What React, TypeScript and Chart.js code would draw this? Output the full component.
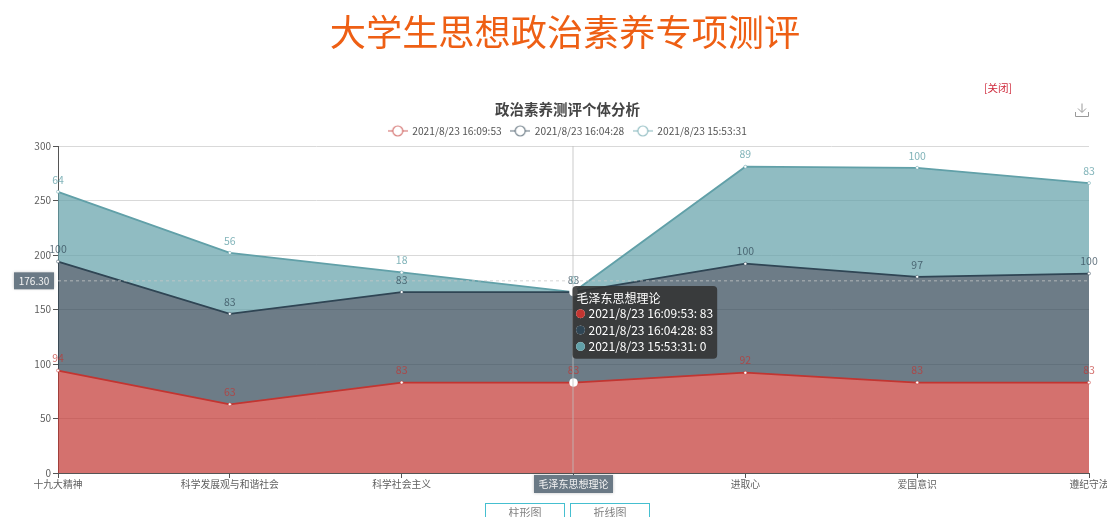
import React, { useEffect, useRef } from "react";
import { Chart, Tooltip, registerables } from "chart.js";

Chart.register(...registerables);

const categories = ["十九大精神", "科学发展观与和谐社会", "科学社会主义", "毛泽东思想理论", "进取心", "爱国意识", "遵纪守法"];
const seriesNames = ["2021/8/23 16:09:53", "2021/8/23 16:04:28", "2021/8/23 15:53:31"];
const seriesA = [94, 63, 83, 83, 92, 83, 83];
const seriesB = [100, 83, 83, 83, 100, 97, 100];
const seriesC = [64, 56, 18, 0, 89, 100, 83];
const solid = ["#c23531", "#2f4554", "#61a0a8"];
const fills = ["rgba(194,53,49,0.7)", "rgba(47,69,84,0.7)", "rgba(97,160,168,0.7)"];
const labelColors = ["rgba(194,53,49,0.72)", "rgba(47,69,84,0.72)", "rgba(97,160,168,0.8)"];
const yTicks = [0, 50, 100, 150, 200, 250, 300];
const pointerValue = 176.3;
const pointerIndex = 3;
const FONT = '"Noto Sans CJK SC", "Noto Sans", sans-serif';

function legendIcon(color: string) {
  const c = document.createElement("canvas");
  c.width = 20;
  c.height = 14;
  const g = c.getContext("2d")!;
  g.strokeStyle = color;
  g.lineWidth = 1.2;
  g.globalAlpha = 0.65;
  g.beginPath();
  g.moveTo(0, 7);
  g.lineTo(20, 7);
  g.stroke();
  g.globalCompositeOperation = "destination-out";
  g.globalAlpha = 1;
  g.beginPath();
  g.arc(10, 7, 5, 0, Math.PI * 2);
  g.fill();
  g.globalCompositeOperation = "source-over";
  g.globalAlpha = 0.65;
  g.beginPath();
  g.arc(10, 7, 5, 0, Math.PI * 2);
  g.stroke();
  return c;
}

function roundBox(g: CanvasRenderingContext2D, text: string, cx: number, cy: number, w: number, h: number) {
  g.save();
  g.fillStyle = "#6a7985";
  g.shadowColor = "rgba(0,0,0,0.25)";
  g.shadowBlur = 3;
  g.fillRect(cx - w / 2, cy - h / 2, w, h);
  g.shadowBlur = 0;
  g.fillStyle = "#f4f4f4";
  g.font = `10px ${FONT}`;
  g.textAlign = "center";
  g.textBaseline = "middle";
  g.fillText(text, cx, cy);
  g.restore();
}

const valueLabels = {
  id: "valueLabels",
  afterDatasetsDraw(chart: any) {
    const g = chart.ctx;
    g.save();
    g.font = `10.5px ${FONT}`;
    g.textAlign = "center";
    g.textBaseline = "bottom";
    chart.data.datasets.forEach((ds: any, i: number) => {
      const meta = chart.getDatasetMeta(i);
      meta.data.forEach((pt: any, j: number) => {
        g.fillStyle = labelColors[i];
        g.fillText(String(ds.data[j]), pt.x, pt.y - 7);
      });
    });
    g.restore();
  },
};

const headerShift = {
  id: "headerShift",
  afterLayout(chart: any) {
    for (const box of [chart.titleBlock, chart.legend]) {
      box.left += 23;
      box.right += 23;
    }
  },
};

const axisPointer = {
  id: "axisPointer",
  afterDatasetsDraw(chart: any) {
    const g = chart.ctx;
    const { left, right, top, bottom } = chart.chartArea;
    const x = chart.scales.x.getPixelForValue(pointerIndex);
    const y = chart.scales.y.getPixelForValue(pointerValue);
    g.save();
    g.lineWidth = 1;
    g.strokeStyle = "rgba(190,190,190,0.8)";
    g.beginPath();
    g.moveTo(x - 0.5, top);
    g.lineTo(x - 0.5, bottom);
    g.stroke();
    g.setLineDash([3, 3]);
    g.strokeStyle = "rgba(200,200,200,0.75)";
    g.beginPath();
    g.moveTo(left, y);
    g.lineTo(right, y);
    g.stroke();
    g.restore();
    roundBox(g, pointerValue.toFixed(2), left - 24, y, 40, 17);
    roundBox(g, categories[pointerIndex], x, bottom + 11, 79, 18);
  },
};

(Tooltip.positioners as any).pointerFixed = function (this: any) {
  const chart = this.chart;
  const stackTop = seriesA[pointerIndex] + seriesB[pointerIndex] + seriesC[pointerIndex];
  return {
    x: chart.scales.x.getPixelForValue(pointerIndex) + 3,
    y: chart.scales.y.getPixelForValue(stackTop) - 6,
  };
};

export default function App() {
  const ref = useRef<HTMLCanvasElement>(null);
  useEffect(() => {
    const make = (label: string, data: number[], i: number) => ({
      label,
      data,
      stack: "s",
      fill: i === 0 ? "origin" : "-1",
      tension: 0,
      borderColor: solid[i],
      backgroundColor: fills[i],
      borderWidth: 1.8,
      pointRadius: 1.5,
      pointBorderWidth: 0.5,
      pointBackgroundColor: "#fff",
      pointBorderColor: solid[i],
      pointHoverRadius: 4,
      pointHoverBorderWidth: 0.5,
      pointHoverBackgroundColor: "#fff",
      pointHoverBorderColor: "#fff",
    });
    const chart = new Chart(ref.current!, {
      type: "line",
      data: {
        labels: categories,
        datasets: [make(seriesNames[0], seriesA, 0), make(seriesNames[1], seriesB, 1), make(seriesNames[2], seriesC, 2)],
      },
      plugins: [valueLabels, axisPointer, headerShift],
      options: {
        responsive: false,
        animation: false,
        events: [],
        layout: { padding: { left: 0, right: 18, top: 0, bottom: 0 } },
        scales: {
          x: {
            offset: false,
            border: { color: "#555" },
            grid: { drawOnChartArea: false, tickColor: "#555", tickLength: 5 },
            ticks: { autoSkip: false, maxRotation: 0, minRotation: 0, color: "#5e5e5e", padding: 0, font: { size: 9.8, family: FONT } },
            afterFit(s: any) {
              s.height = 44;
              s.paddingRight = 0;
              s.paddingLeft = 0;
            },
          } as any,
          y: {
            stacked: true,
            min: 0,
            max: 300,
            border: { color: "#555" },
            grid: { color: "#d9d9d9", tickColor: "#555", tickLength: 5 },
            ticks: {
              color: "#5e5e5e",
              padding: 2,
              font: { size: 10, family: FONT },
              stepSize: 50,
              callback: (v: any) => (yTicks.includes(v) ? String(v) : ""),
            },
            afterFit(s: any) {
              s.width = 58;
              s.paddingTop = 146;
              s.paddingBottom = 0;
            },
          } as any,
        },
        plugins: {
          title: {
            display: true,
            text: "政治素养测评个体分析",
            color: "#444",
            font: { size: 14.5, weight: "bold", family: FONT },
            padding: { top: 96, bottom: -1 },
          },
          legend: {
            display: true,
            labels: {
              usePointStyle: true,
              pointStyleWidth: 19,
              boxHeight: 10,
              padding: 9,
              color: "#555",
              font: { size: 10.2, family: FONT },
              generateLabels(c: any) {
                const base = (Chart.defaults.plugins.legend.labels as any).generateLabels(c);
                return base.map((it: any, i: number) => ({ ...it, pointStyle: legendIcon(solid[i]) }));
              },
            },
          },
          tooltip: {
            enabled: true,
            position: "pointerFixed" as any,
            xAlign: "left",
            yAlign: "top",
            caretSize: 0,
            caretPadding: 0,
            backgroundColor: "rgba(50,50,50,0.88)",
            cornerRadius: 4,
            padding: { left: 4, right: 4, top: 5, bottom: 5 },
            titleColor: "#fff",
            bodyColor: "#fff",
            titleFont: { size: 12, weight: "normal", family: FONT },
            bodyFont: { size: 12, family: FONT },
            titleMarginBottom: 1,
            bodySpacing: 2,
            usePointStyle: true,
            boxWidth: 8,
            boxHeight: 8,
            boxPadding: 2,
            callbacks: {
              label: (c: any) => `${c.dataset.label}: ${c.raw}`,
              labelColor: (c: any) => ({ backgroundColor: solid[c.datasetIndex], borderColor: solid[c.datasetIndex] }),
              labelPointStyle: () => ({ pointStyle: "circle", rotation: 0 }),
            },
          },
        },
      },
    } as any);
    const active = seriesNames.map((_, i) => ({ datasetIndex: i, index: pointerIndex }));
    chart.setActiveElements(active);
    chart.tooltip!.setActiveElements(active, { x: 0, y: 0 });
    chart.update();
    return () => chart.destroy();
  }, []);

  const btn = (left: number, text: string) => (
    <div
      style={{
        position: "absolute",
        left,
        top: 503,
        width: 80,
        height: 30,
        border: "1px solid #45bfd0",
        boxSizing: "border-box",
        color: "#808080",
        fontSize: 11,
        textAlign: "center",
        lineHeight: "17px",
        fontFamily: FONT,
      }}
    >
      {text}
    </div>
  );

  return (
    <div style={{ position: "fixed", left: 0, top: 0, width: 1107, height: 517, overflow: "hidden", background: "#fff" }}>
      <canvas ref={ref} width={1107} height={517} style={{ position: "absolute", left: 0, top: 0, width: 1107, height: 517 }} />
      <div
        style={{
          position: "absolute",
          left: 0,
          width: 1130,
          top: 6,
          textAlign: "center",
          color: "#ee5f14",
          fontSize: 36.2,
          lineHeight: "48px",
          fontFamily: FONT,
        }}
      >
        大学生思想政治素养专项测评
      </div>
      <div style={{ position: "absolute", left: 984, top: 81, color: "#cf2a3c", fontSize: 10.5, lineHeight: "14px", fontFamily: FONT }}>[关闭]</div>
      <svg style={{ position: "absolute", left: 1075, top: 102 }} width={14} height={16} viewBox="0 0 14 16" fill="none" stroke="#999" strokeWidth={1}>
        <path d="M7 1.5V10M3 6.5L7 10.5L11 6.5M0.5 10V14.5H13.5V10" />
      </svg>
      {btn(485, "柱形图")}
      {btn(570, "折线图")}
    </div>
  );
}
